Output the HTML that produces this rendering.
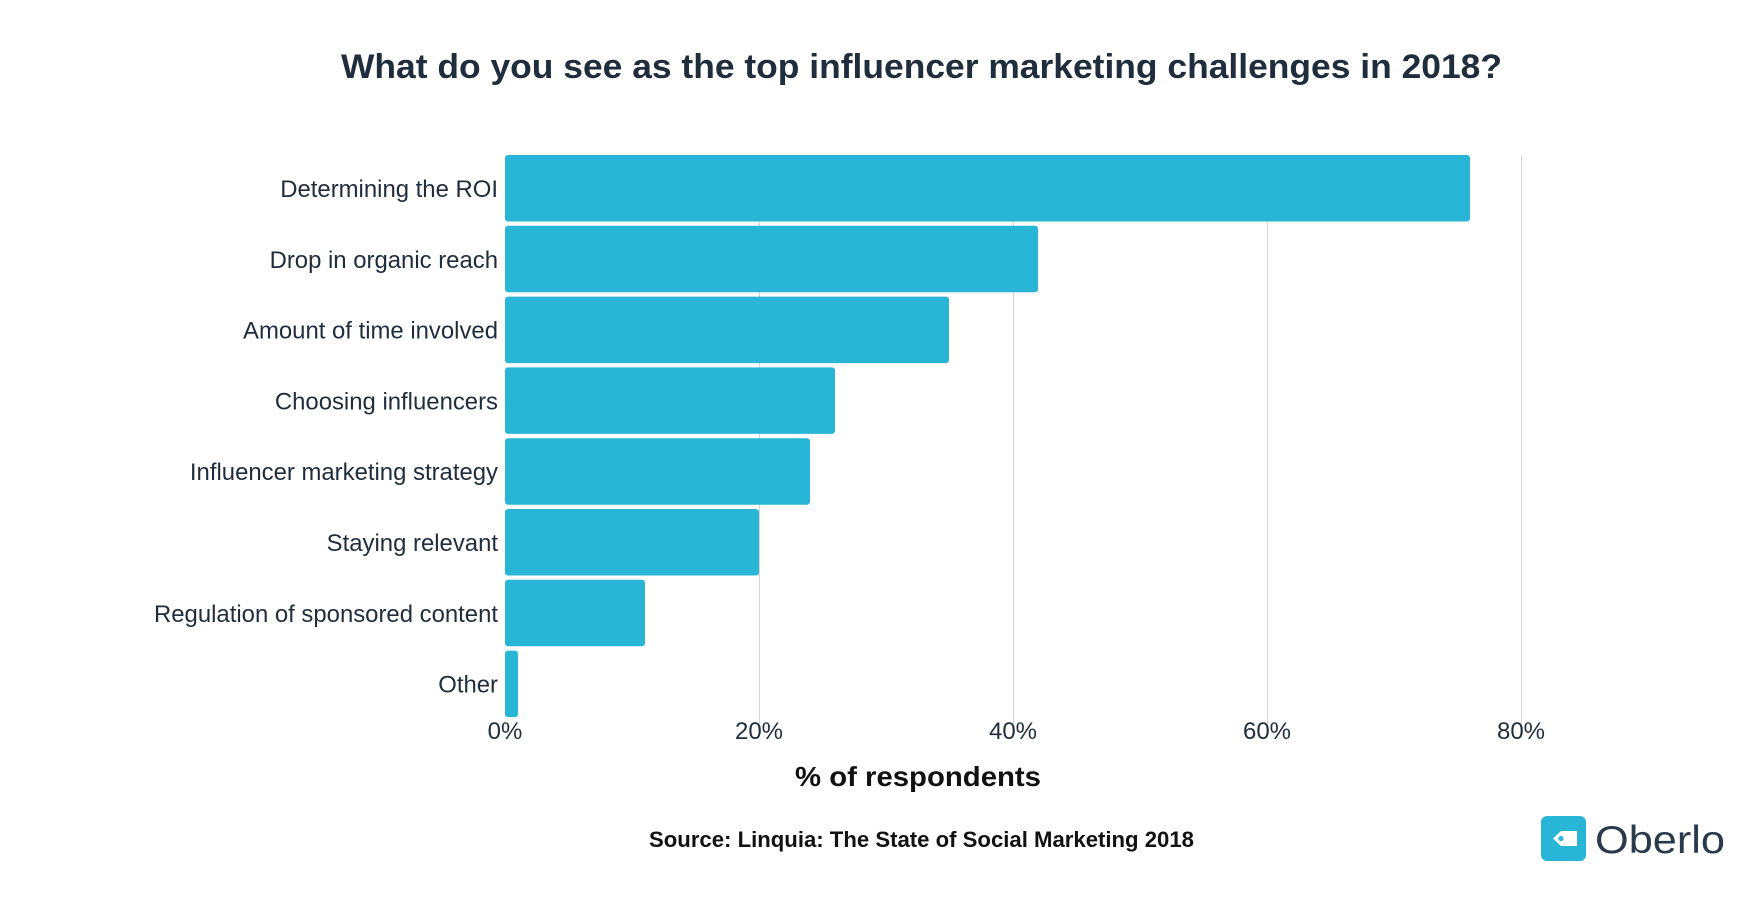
<!DOCTYPE html>
<html><head><meta charset="utf-8"><style>
html,body{margin:0;padding:0;background:#fff;}
svg{display:block;}
</style></head><body>
<svg width="1760" height="900" viewBox="0 0 1760 900" xmlns="http://www.w3.org/2000/svg" font-family="Liberation Sans, sans-serif">
<rect width="1760" height="900" fill="#fff"/>
<text x="341" y="78" font-size="34" font-weight="bold" fill="#1f2d3d" textLength="1161" lengthAdjust="spacingAndGlyphs">What do you see as the top influencer marketing challenges in 2018?</text>
<g stroke="#d4d4d4" stroke-width="1">
<line x1="759.5" y1="155" x2="759.5" y2="724"/>
<line x1="1013.5" y1="155" x2="1013.5" y2="724"/>
<line x1="1267.5" y1="155" x2="1267.5" y2="724"/>
<line x1="1521.5" y1="155" x2="1521.5" y2="724"/>
</g>
<g fill="#29b6d6">
<rect x="505" y="155" width="965" height="66.5" rx="3"/>
<rect x="505" y="225.8" width="533" height="66.5" rx="3"/>
<rect x="505" y="296.6" width="444" height="66.5" rx="3"/>
<rect x="505" y="367.4" width="330" height="66.5" rx="3"/>
<rect x="505" y="438.2" width="305" height="66.5" rx="3"/>
<rect x="505" y="509" width="254" height="66.5" rx="3"/>
<rect x="505" y="579.8" width="140" height="66.5" rx="3"/>
<rect x="505" y="650.6" width="13" height="66.5" rx="3"/>
</g>
<g font-size="23.9" fill="#1f2d3d" text-anchor="end">
<text x="498" y="197">Determining the ROI</text>
<text x="498" y="267.8">Drop in organic reach</text>
<text x="498" y="338.6">Amount of time involved</text>
<text x="498" y="409.4">Choosing influencers</text>
<text x="498" y="480.2">Influencer marketing strategy</text>
<text x="498" y="551">Staying relevant</text>
<text x="498" y="621.8">Regulation of sponsored content</text>
<text x="498" y="692.6">Other</text>
</g>
<g font-size="24" fill="#1f2d3d" text-anchor="middle">
<text x="505" y="739">0%</text>
<text x="759" y="739">20%</text>
<text x="1013" y="739">40%</text>
<text x="1267" y="739">60%</text>
<text x="1521" y="739">80%</text>
</g>
<text x="795" y="786" font-size="28" font-weight="bold" fill="#111" textLength="246" lengthAdjust="spacingAndGlyphs">% of respondents</text>
<text x="649" y="847" font-size="22.5" font-weight="bold" fill="#111" textLength="545" lengthAdjust="spacingAndGlyphs">Source:  Linquia: The State of Social Marketing 2018</text>
<rect x="1541" y="816" width="45" height="45" rx="6" fill="#29b6d6"/>
<path d="M1553 838.5 L1561 831 H1577 V846 H1561 Z" fill="#fff"/>
<circle cx="1561" cy="838.5" r="2.6" fill="#29b6d6"/>
<text x="1595" y="853" font-size="39" fill="#2a3a4d" textLength="130" lengthAdjust="spacingAndGlyphs">Oberlo</text>
</svg>
</body></html>
